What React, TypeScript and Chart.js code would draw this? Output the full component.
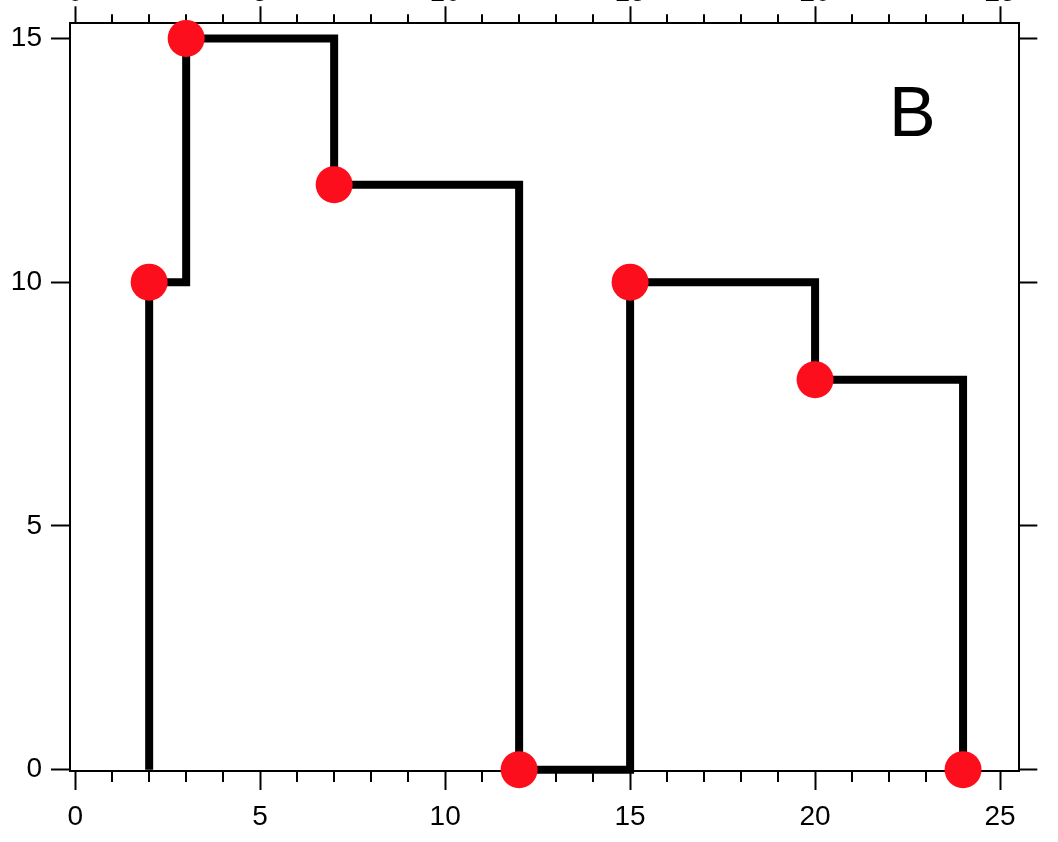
import React, { useEffect, useRef } from 'react';
import { Chart, registerables } from 'chart.js';

Chart.register(...registerables);

// ---- data ----
const POINT_X = [2, 3, 7, 12, 15, 20, 24];
const POINT_Y = [10, 15, 12, 0, 10, 8, 0];
const STEP_START_Y = 0;

// ---- axes ----
const X_MIN = -0.14;
const X_MAX = 25.52;
const Y_MIN = -0.027;
const Y_MAX = 15.31;
const X_MAJOR = [0, 5, 10, 15, 20, 25];
const X_MINOR = [1, 2, 3, 4, 6, 7, 8, 9, 11, 12, 13, 14, 16, 17, 18, 19, 21, 22, 23, 24];
const Y_MAJOR = [0, 5, 10, 15];

// ---- annotation ----
const PANEL_LABEL = 'B';
const PANEL_LABEL_X = 22;
const PANEL_LABEL_Y = 13;

const W = 1058;
const H = 882;
const SHIFT = 40;
const FONT = "'Liberation Sans', Arial, Helvetica, sans-serif";
const TICK_FONT_SIZE = 28;

export default function App() {
  const ref = useRef<HTMLCanvasElement | null>(null);

  useEffect(() => {
    const canvas = ref.current;
    if (!canvas) return;

    const minorTicks = {
      id: 'minorTicks',
      beforeDatasetsDraw(chart: any) {
        const ctx = chart.ctx;
        const xs = chart.scales.x;
        const area = chart.chartArea;
        ctx.save();
        ctx.strokeStyle = '#000';
        ctx.lineWidth = 2;
        ctx.beginPath();
        X_MINOR.forEach((v) => {
          const px = Math.round(xs.getPixelForValue(v));
          ctx.moveTo(px, area.bottom);
          ctx.lineTo(px, area.bottom + 11);
          ctx.moveTo(px, area.top);
          ctx.lineTo(px, area.top - 9);
        });
        ctx.stroke();
        // panel label
        ctx.fillStyle = '#000';
        ctx.font = `70px ${FONT}`;
        ctx.textAlign = 'left';
        ctx.textBaseline = 'alphabetic';
        ctx.fillText(
          PANEL_LABEL,
          xs.getPixelForValue(PANEL_LABEL_X),
          chart.scales.y.getPixelForValue(PANEL_LABEL_Y)
        );
        ctx.restore();
      },
    };

    const lineData = [
      { x: POINT_X[0], y: STEP_START_Y },
      ...POINT_X.map((x, i) => ({ x, y: POINT_Y[i] })),
    ];
    const pointData = POINT_X.map((x, i) => ({ x, y: POINT_Y[i] }));

    const axisCommon = (len: number) => ({
      border: { display: true, color: '#000', width: 2 },
      grid: {
        display: true,
        drawOnChartArea: false,
        drawTicks: true,
        tickLength: len,
        tickWidth: 2,
        tickColor: '#000',
      },
    });

    const chart = new Chart(canvas, {
      type: 'scatter',
      data: {
        datasets: [
          {
            type: 'scatter',
            data: pointData,
            order: 0,
            pointRadius: 18.5,
            pointHoverRadius: 18.5,
            pointBackgroundColor: '#fd0e1d',
            pointBorderWidth: 0,
            pointBorderColor: '#fd0e1d',
            showLine: false,
            clip: false as any,
            xAxisID: 'x',
            yAxisID: 'y',
          },
          {
            type: 'line',
            data: lineData,
            order: 1,
            borderColor: '#000',
            borderWidth: 8,
            stepped: 'before',
            borderJoinStyle: 'miter',
            borderCapStyle: 'butt',
            pointRadius: 0,
            fill: false,
            tension: 0,
            clip: false as any,
            xAxisID: 'x',
            yAxisID: 'y',
          } as any,
        ],
      },
      options: {
        animation: false,
        responsive: false,
        maintainAspectRatio: false,
        layout: { padding: 0 },
        plugins: {
          legend: { display: false },
          tooltip: { enabled: false },
          title: { display: false },
        },
        scales: {
          x: {
            type: 'linear',
            position: 'bottom',
            min: X_MIN,
            max: X_MAX,
            ...axisCommon(19),
            ticks: {
              color: '#000',
              font: { family: FONT, size: TICK_FONT_SIZE },
              padding: 10,
              maxRotation: 0,
              autoSkip: false,
            },
            afterBuildTicks: (s: any) => {
              s.ticks = X_MAJOR.map((v) => ({ value: v }));
            },
            afterFit: (s: any) => {
              s.height = 71;
            },
          },
          x2: {
            type: 'linear',
            position: 'top',
            min: X_MIN,
            max: X_MAX,
            ...axisCommon(17),
            ticks: {
              color: '#000',
              font: { family: FONT, size: TICK_FONT_SIZE },
              padding: -4,
              maxRotation: 0,
              autoSkip: false,
            },
            afterBuildTicks: (s: any) => {
              s.ticks = X_MAJOR.map((v) => ({ value: v }));
            },
            afterFit: (s: any) => {
              s.height = 63.3;
            },
          },
          y: {
            type: 'linear',
            position: 'left',
            min: Y_MIN,
            max: Y_MAX,
            ...axisCommon(19),
            ticks: {
              color: '#000',
              font: { family: FONT, size: TICK_FONT_SIZE },
              padding: 9,
              autoSkip: false,
            },
            afterBuildTicks: (s: any) => {
              s.ticks = Y_MAJOR.map((v) => ({ value: v }));
            },
            afterFit: (s: any) => {
              s.width = 70;
            },
          },
          y2: {
            type: 'linear',
            position: 'right',
            min: Y_MIN,
            max: Y_MAX,
            ...axisCommon(18),
            ticks: { display: false },
            afterBuildTicks: (s: any) => {
              s.ticks = Y_MAJOR.map((v) => ({ value: v }));
            },
            afterFit: (s: any) => {
              s.width = W - 1019.3;
            },
          },
        },
      } as any,
      plugins: [minorTicks],
    });

    return () => {
      chart.destroy();
    };
  }, []);

  return (
    <div
      style={{
        position: 'fixed',
        left: 0,
        top: -SHIFT,
        width: W,
        height: H,
        background: '#fff',
      }}
    >
      <canvas ref={ref} width={W} height={H} style={{ width: W, height: H, display: 'block' }} />
    </div>
  );
}
